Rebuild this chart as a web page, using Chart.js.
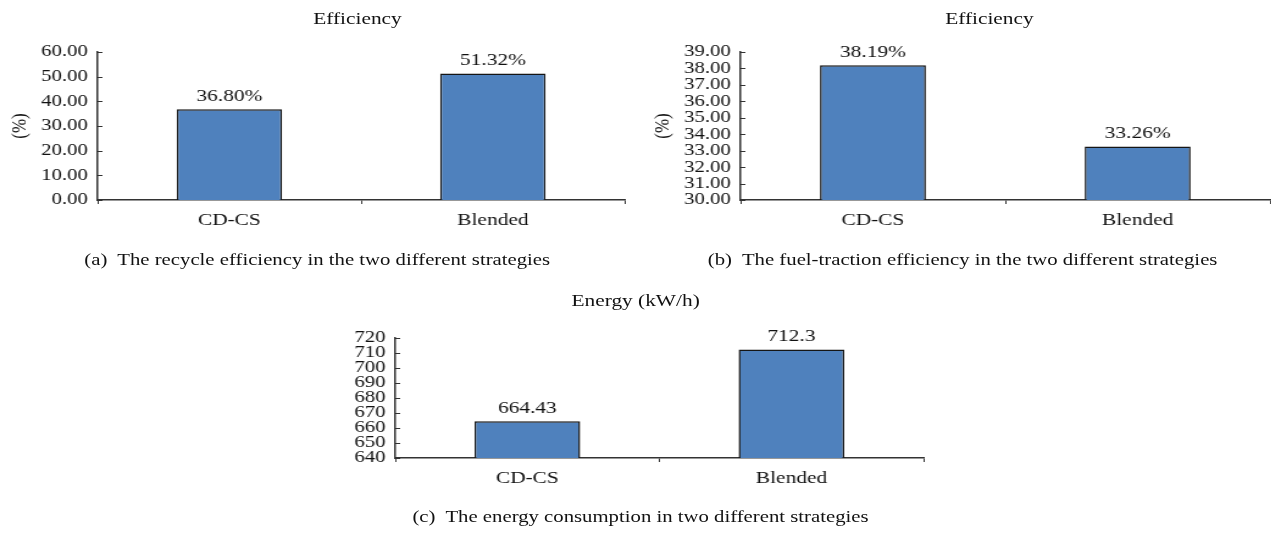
<!DOCTYPE html>
<html>
<head>
<meta charset="utf-8">
<script src="https://cdn.jsdelivr.net/npm/chart.js@4.4.1/dist/chart.umd.min.js"></script>
<style>
  body { margin: 0; background: #fff; width: 1271px; height: 535px; overflow: hidden;
         font-family: "Liberation Serif", "DejaVu Serif", serif; color: #111; }
  /* la figura original esta estirada en horizontal */
  #lienzo { position: absolute; left: 0; top: 0; width: 1042px; height: 535px;
            transform: scaleX(1.22); transform-origin: 0 0; }
  .box { position: absolute; }
  .txt { position: absolute; white-space: pre; transform: translate(-50%, -50%); }
  .titulo { font-size: 17.5px; }
  .pie { font-size: 17px; }
</style>
</head>
<body>
<div id="lienzo">
  <div class="txt titulo" style="left:293px; top:18px;">Efficiency</div>
  <div class="txt titulo" style="left:811px; top:18px;">Efficiency</div>
  <div class="txt titulo" style="left:521px; top:300px;">Energy (kW/h)</div>
  <div class="txt pie" style="left:260px; top:260px;">(a)  The recycle efficiency in the two different strategies</div>
  <div class="txt pie" style="left:789px; top:260px;">(b)  The fuel-traction efficiency in the two different strategies</div>
  <div class="txt pie" style="left:525px; top:517px;">(c)  The energy consumption in two different strategies</div>

  <div class="box" style="left:0px; top:32px; width:526px; height:198px;"><canvas id="chartA"></canvas></div>
  <div class="box" style="left:524px; top:32px; width:518px; height:198px;"><canvas id="chartB"></canvas></div>
  <div class="box" style="left:263px; top:318px; width:508px; height:170px;"><canvas id="chartC"></canvas></div>
</div>

<script>
// datos de las tres graficas
const estrategias = ['CD-CS', 'Blended'];
const eficienciaReciclaje = [36.80, 51.32];
const eficienciaTraccion = [38.19, 33.26];
const consumoEnergia = [664.43, 712.3];

const etiquetasA = ['36.80%', '51.32%'];
const etiquetasB = ['38.19%', '33.26%'];
const etiquetasC = ['664.43', '712.3'];

const fuente = '"Liberation Serif", "DejaVu Serif", serif';
const colorBarra = '#4f81bd';
const colorEje = '#333';

// escribe el valor encima de cada barra
const etiquetasBarras = {
    id: 'etiquetasBarras',
    afterDatasetsDraw(chart, args, opts) {
        const ctx = chart.ctx;
        const meta = chart.getDatasetMeta(0);
        ctx.save();
        ctx.font = '17.5px ' + fuente;
        ctx.fillStyle = '#111';
        ctx.textAlign = 'center';
        ctx.textBaseline = 'bottom';
        meta.data.forEach((bar, i) => {
            ctx.fillText(opts.textos[i], bar.x, bar.y - 4);
        });
        ctx.restore();
    }
};

// marcas del eje Y hacia dentro
const marcasY = {
    id: 'marcasY',
    afterDraw(chart) {
        const y = chart.scales.y;
        const ctx = chart.ctx;
        const x0 = chart.chartArea.left;
        ctx.save();
        ctx.strokeStyle = colorEje;
        ctx.lineWidth = 1;
        y.ticks.forEach(t => {
            const py = Math.round(y.getPixelForValue(t.value)) + 0.5;
            ctx.beginPath();
            ctx.moveTo(x0, py);
            ctx.lineTo(x0 + 4, py);
            ctx.stroke();
        });
        ctx.restore();
    }
};

function crearGrafico(id, valores, textos, cfgY) {
    const ctx = document.getElementById(id).getContext('2d');
    return new Chart(ctx, {
        type: 'bar',
        data: {
            labels: estrategias,
            datasets: [{
                data: valores,
                backgroundColor: colorBarra,
                borderColor: '#151515',
                borderWidth: 1.5,
                borderSkipped: 'bottom',
                barPercentage: 0.4,
                categoryPercentage: 1.0
            }]
        },
        options: {
            responsive: true,
            maintainAspectRatio: false,
            animation: false,
            layout: { padding: { top: 20, right: cfgY.derecha, left: 0, bottom: 0 } },
            plugins: {
                legend: { display: false },
                tooltip: { enabled: false },
                etiquetasBarras: { textos: textos }
            },
            scales: {
                x: {
                    offset: true,
                    grid: { offset: true, drawOnChartArea: false, drawTicks: true, tickLength: 4, color: colorEje, lineWidth: 1 },
                    border: { color: colorEje, width: 1.5 },
                    ticks: { color: '#111', font: { family: fuente, size: 17.5 }, padding: 6 },
                    afterFit: (s) => { s.height = 30; }
                },
                y: {
                    min: cfgY.min,
                    max: cfgY.max,
                    grid: { display: false, drawTicks: false },
                    border: { color: colorEje, width: 1.5 },
                    ticks: {
                        stepSize: cfgY.paso,
                        autoSkip: false,
                        color: '#111',
                        padding: 8,
                        font: { family: fuente, size: 17, lineHeight: 1 },
                        callback: (v) => cfgY.decimales ? Number(v).toFixed(2) : v
                    },
                    title: cfgY.titulo ? {
                        display: true,
                        text: cfgY.titulo,
                        color: '#111',
                        font: { family: fuente, size: 17 },
                        padding: { top: cfgY.margenTitulo, bottom: 0 }
                    } : { display: false },
                    afterFit: (s) => { s.width = cfgY.ancho; }
                }
            }
        },
        plugins: [etiquetasBarras, marcasY]
    });
}

crearGrafico('chartA', eficienciaReciclaje, etiquetasA, { min: 0, max: 60, paso: 10, decimales: true, titulo: '(%)', ancho: 80, margenTitulo: 6, derecha: 14 });
crearGrafico('chartB', eficienciaTraccion, etiquetasB, { min: 30, max: 39, paso: 1, decimales: true, titulo: '(%)', ancho: 83, margenTitulo: 9, derecha: 1 });
crearGrafico('chartC', consumoEnergia, etiquetasC, { min: 640, max: 720, paso: 10, decimales: false, titulo: null, ancho: 61, derecha: 14 });
</script>
</body>
</html>
